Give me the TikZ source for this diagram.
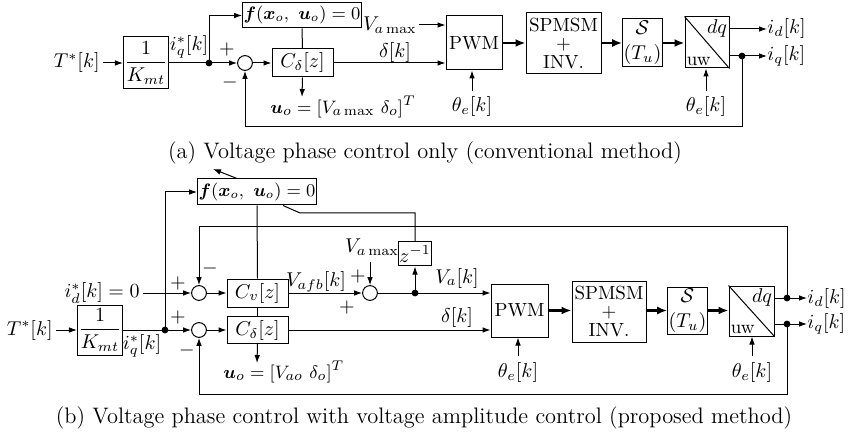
\documentclass[tikz,border=0pt]{standalone}
\usepackage{amsmath,bm}
\usetikzlibrary{arrows.meta,calc}
\begin{document}
\begin{tikzpicture}[x=0.5pt,y=-0.5pt,
  every node/.style={font=\fontsize{10pt}{11.5pt}\selectfont},
  blk/.style={draw, line width=0.5pt, inner sep=0.5pt, align=center},
  rom/.style={font=\fontsize{9.5pt}{11pt}\selectfont},
  fbox/.style={draw, line width=0.5pt, inner sep=0.5pt, font=\fontsize{8.9pt}{10pt}\selectfont},
  sumc/.style={draw, circle, line width=0.5pt, minimum size=7.4pt, inner sep=0pt},
  dotc/.style={circle, fill, inner sep=0pt, minimum size=3.4pt},
  lbl/.style={inner sep=0pt},
  sig/.style={line width=0.5pt, -{Latex[length=4pt,width=2.8pt]}},
  ln/.style={line width=0.5pt},
  thk/.style={line width=1.3pt, -{Latex[length=5pt,width=4pt]}},
  captext/.style={font=\fontsize{11.2pt}{13pt}\selectfont, inner sep=0pt},
  stk/.style={font=\fontsize{9.5pt}{9.3pt}\selectfont}
]
\useasboundingbox (0,0) rectangle (849,432);

% ================= (a) =================
\node[lbl, anchor=east] (Ta) at (100,63) {$T^*[k]$};
\node[blk, minimum width=20pt, minimum height=26pt] (Ka) at (146,63) {$\dfrac{1}{K_{mt}}$};
\node[lbl] (iqsa) at (189,47) {$i_q^*[k]$};
\node[dotc] (da) at (209,63) {};
\node[sumc] (sa) at (245,63) {};
\node[lbl] (pa1) at (227,50) {$+$};
\node[lbl] (ma1) at (230,83) {$-$};
\node[blk, minimum width=30.5pt, minimum height=14pt] (Cda) at (302.5,63) {$C_\delta[z]$};
\node[fbox, minimum width=56pt, minimum height=12.5pt] (fa) at (302,15.5) {$\bm{f}(\bm{x}_o,\ \bm{u}_o)=0$};
\coordinate (ua) at (302,97);
\node[lbl, anchor=west, rom] (uoa) at (270,107) {$\bm{u}_o=[V_{a\max}\ \delta_o]^T$};
\node[lbl, anchor=east] (Vma) at (417,25) {$V_{a\max}$};
\node[lbl] (dla) at (395,53) {$\delta[k]$};
\node[blk, rom, minimum width=28pt, minimum height=27pt] (Pa) at (474,43) {PWM};
\node[blk, stk, minimum width=37.5pt, minimum height=30.5pt] (SPa) at (563.5,43.5) {SPMSM\\+\\INV.};
\node[blk, minimum width=19.5pt, minimum height=24pt] (Sa) at (642.5,43) {$\mathcal{S}$\\[1pt]$(T_u)$};
\node[blk, minimum width=22pt, minimum height=25.5pt] (DQa) at (707,42.5) {};
\node[lbl, anchor=north east] (dqta) at ($(DQa.north east)+(-2,3)$) {$dq$};
\node[lbl, rom, anchor=south west] (uwa) at ($(DQa.south west)+(2,-2)$) {uw};
\node[lbl] (th1a) at (472,107) {$\theta_e[k]$};
\node[lbl] (th2a) at (706,107) {$\theta_e[k]$};
\node[lbl, anchor=west] (ida) at (767,29) {$i_d[k]$};
\node[lbl, anchor=west] (iqa) at (767,56) {$i_q[k]$};
\node[dotc] (dqa) at (742,56) {};
\coordinate (fba1) at (742,127);

\draw[ln] (DQa.north west) -- (DQa.south east);
\draw[sig, shorten <=1.5pt] (Ta.east) -- (Ka.west);
\draw[ln] (Ka.east) -- (da.center);
\draw[sig] (da.center) -- (sa.west);
\draw[sig] (da.center) |- (fa.west);
\draw[sig] (sa.east) -- (Cda.west);
\draw[ln] (fa.south) -- (Cda.north);
\draw[sig] (Cda.south) -- (ua);
\draw[sig] (Cda.east) -- (Pa.west |- Cda.east);
\draw[sig, shorten <=1pt] (Vma.east) -- (Pa.west |- Vma.east);
\draw[sig, shorten <=3pt] (th1a.north) -- (th1a.north |- Pa.south);
\draw[sig, shorten <=3pt] (th2a.north) -- (th2a.north |- DQa.south);
\draw[thk] (Pa.east) -- (SPa.west |- Pa.east);
\draw[thk] (SPa.east |- Sa.west) -- (Sa.west);
\draw[thk] (Sa.east) -- (DQa.west |- Sa.east);
\draw[sig] (DQa.east |- ida.west) -- (ida.west);
\draw[ln] (DQa.east |- dqa.center) -- (dqa.center);
\draw[sig] (dqa.center) -- (iqa.west);
\draw[sig] (dqa.center) -- (fba1) -| (sa.south);

\node[captext] (capa) at (425,153) {(a) Voltage phase control only (conventional method)};

% ================= (b) =================
\node[lbl, anchor=east] (Tb) at (53,330) {$T^*[k]$};
\node[blk, minimum width=20pt, minimum height=25pt] (Kb) at (100,330) {$\dfrac{1}{K_{mt}}$};
\node[lbl] (iqsb) at (142,346) {$i_q^*[k]$};
\node[dotc] (db) at (165,330) {};
\node[lbl, anchor=east] (idz) at (140,293) {$i_d^*[k]=0$};
\node[sumc] (sv) at (199,293) {};
\node[sumc] (sd) at (199,330) {};
\node[lbl] (pb1) at (178,283) {$+$};
\node[lbl] (mb1) at (210,268) {$-$};
\node[lbl] (pb2) at (178,317) {$+$};
\node[lbl] (mb2) at (187,350) {$-$};
\node[blk, minimum width=30.5pt, minimum height=14pt] (Cv) at (257.5,293) {$C_v[z]$};
\node[blk, minimum width=30.5pt, minimum height=13.5pt] (Cdb) at (257.5,330) {$C_\delta[z]$};
\node[fbox, minimum width=56pt, minimum height=13pt] (fb) at (257,192) {$\bm{f}(\bm{x}_o,\ \bm{u}_o)=0$};
\coordinate (fout) at (213,169);
\coordinate (ub) at (257,363);
\node[lbl, rom, anchor=west] (uob) at (223,372) {$\bm{u}_o=[V_{ao}\ \delta_o]^T$};
\node[lbl] (Vafb) at (316,282) {$V_{afb}[k]$};
\node[lbl] (pb3) at (358,276) {$+$};
\node[lbl] (pb4) at (347,307) {$+$};
\node[sumc] (s2) at (370,293) {};
\node[lbl] (Vmb) at (372,247) {$V_{a\max}$};
\node[dotc] (dv) at (415,293) {};
\node[blk, minimum width=16pt, minimum height=12pt] (zi) at (415,254) {$z^{-1}$};
\node[lbl] (Vak) at (457,278) {$V_a[k]$};
\node[lbl] (dlb) at (457,317) {$\delta[k]$};
\node[blk, rom, minimum width=28.5pt, minimum height=26.5pt] (Pb) at (519.5,310.5) {PWM};
\node[blk, stk, minimum width=37pt, minimum height=30.5pt] (SPb) at (609,311.5) {SPMSM\\+\\INV.};
\node[blk, minimum width=19.5pt, minimum height=23.5pt] (Sb) at (687.5,310.5) {$\mathcal{S}$\\[1pt]$(T_u)$};
\node[blk, minimum width=22.5pt, minimum height=25pt] (DQb) at (751.5,311) {};
\node[lbl, anchor=north east] (dqtb) at ($(DQb.north east)+(-2,3)$) {$dq$};
\node[lbl, rom, anchor=south west] (uwb) at ($(DQb.south west)+(2,-2)$) {uw};
\node[lbl] (th1b) at (518,372) {$\theta_e[k]$};
\node[lbl] (th2b) at (752,372) {$\theta_e[k]$};
\node[lbl, anchor=west] (idb) at (807,298) {$i_d[k]$};
\node[lbl, anchor=west] (iqb) at (807,324) {$i_q[k]$};
\node[dotc] (d1) at (787,298) {};
\node[dotc] (d2) at (787,324) {};
\coordinate (ft) at (787,227);
\coordinate (fbt) at (787,394);
\coordinate (dg1) at ($(fb.south)+(26,0)$);
\coordinate (dg2) at (300,213);
\coordinate (dg3) at (415,213);

\draw[ln] (DQb.north west) -- (DQb.south east);
\draw[sig, shorten <=1.5pt] (Tb.east) -- (Kb.west);
\draw[ln] (Kb.east) -- (db.center);
\draw[sig] (db.center) -- (sd.west);
\draw[sig] (db.center) |- (fb.west);
\draw[sig, shorten <=1.5pt] (idz.east) -- (sv.west);
\draw[sig] (sv.east) -- (Cv.west);
\draw[sig] (sd.east) -- (Cdb.west);
\draw[ln] (fb.south) -- (Cv.north);
\draw[ln] (Cv.south) -- (Cdb.north);
\draw[sig] (Cdb.south) -- (ub);
\draw[sig] ($(fb.north)+(-20,0)$) -- (fout);
\draw[ln] (dg1) -- (dg2) -- (dg3) -- (zi.north);
\draw[sig] (Cv.east) -- (s2.west);
\draw[sig, shorten <=3pt] (Vmb.south -| s2.north) -- (s2.north);
\draw[ln] (s2.east) -- (dv.center);
\draw[sig] (dv.center) -- (zi.south);
\draw[sig] (dv.center) -- (Pb.west |- dv.center);
\draw[sig] (Cdb.east) -- (Pb.west |- Cdb.east);
\draw[sig, shorten <=3pt] (th1b.north) -- (th1b.north |- Pb.south);
\draw[sig, shorten <=3pt] (th2b.north) -- (th2b.north |- DQb.south);
\draw[thk] (Pb.east) -- (SPb.west |- Pb.east);
\draw[thk] (SPb.east |- Sb.west) -- (Sb.west);
\draw[thk] (Sb.east) -- (DQb.west |- Sb.east);
\draw[ln] (DQb.east |- d1.center) -- (d1.center);
\draw[ln] (DQb.east |- d2.center) -- (d2.center);
\draw[sig] (d1.center) -- (idb.west);
\draw[sig] (d2.center) -- (iqb.west);
\draw[sig] (d1.center) -- (ft) -| (sv.north);
\draw[sig] (d2.center) -- (fbt) -| (sd.south);

\node[captext] (capb) at (424,418) {(b) Voltage phase control with voltage amplitude control (proposed method)};
\end{tikzpicture}
\end{document}
